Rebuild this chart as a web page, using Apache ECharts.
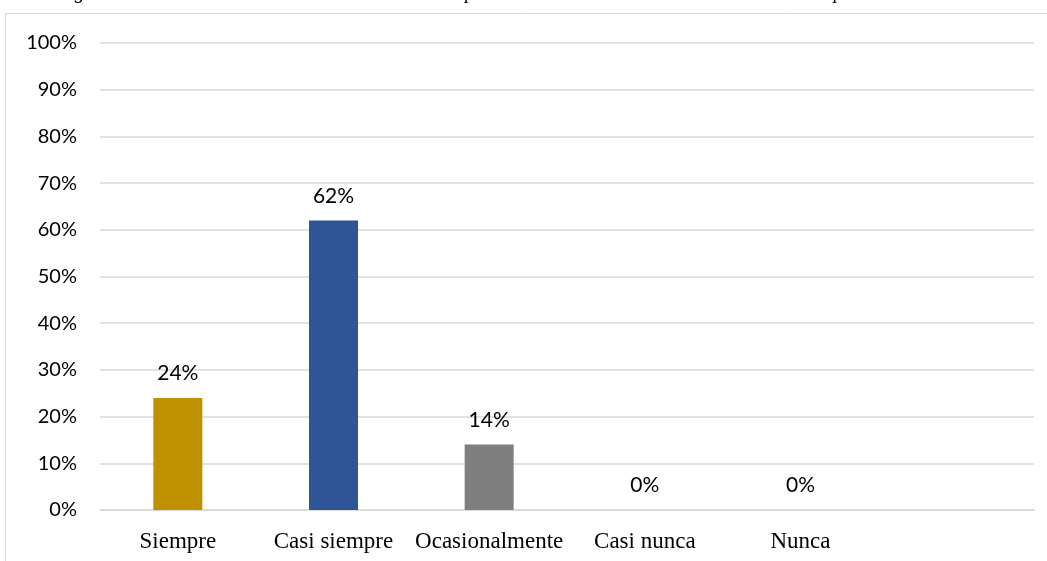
<!DOCTYPE html>
<html>
<head>
<meta charset="utf-8">
<script src="https://cdn.jsdelivr.net/npm/echarts@6/dist/echarts.min.js"></script>
<style>
html,body{margin:0;padding:0;background:#fff;}
#main{width:1047px;height:561px;}
</style>
</head>
<body>
<div id="main"></div>
<script>
const categories = ['Siempre', 'Casi siempre', 'Ocasionalmente', 'Casi nunca', 'Nunca', ''];
const values = [24, 62, 14, 0, 0, null];
const barColors = ['#BF9000', '#2F5597', '#7F7F7F', '#4472C4', '#4472C4', '#4472C4'];
const yTicks = [0, 10, 20, 30, 40, 50, 60, 70, 80, 90, 100];
const titleText = 'Figura 14. Actividades realizadas con las otras empresas del área contable de la zona norte compartidas';

const chart = echarts.init(document.getElementById('main'), null, {renderer: 'canvas'});
chart.setOption({
  animation: false,
  backgroundColor: '#ffffff',
  graphic: [
    {type: 'rect', z: 0, shape: {x: 5.5, y: 13.5, width: 1100, height: 600},
     style: {fill: 'none', stroke: '#D9D9D9', lineWidth: 1}},
    {type: 'text', z: 1, left: 57, top: -17,
     style: {text: titleText, font: 'italic 20px "Liberation Serif"', fill: '#000'}}
  ],
  grid: {left: 100, right: 13, top: 43, bottom: 51, containLabel: false},
  xAxis: {
    type: 'category',
    data: categories,
    axisLine: {show: true, lineStyle: {color: '#D9D9D9', width: 1.5}},
    axisTick: {show: false},
    axisLabel: {margin: 20, color: '#000', fontFamily: 'Liberation Serif', fontSize: 23, interval: 0}
  },
  yAxis: {
    type: 'value',
    min: yTicks[0], max: yTicks[yTicks.length - 1], interval: 10,
    axisLine: {show: false},
    axisTick: {show: false},
    splitLine: {lineStyle: {color: '#D9D9D9', width: 1.5}},
    axisLabel: {margin: 23, color: '#000', fontFamily: 'Lato', fontSize: 20,
      formatter: v => v + '%'}
  },
  series: [{
    type: 'bar',
    barWidth: 49,
    data: values.map((v, i) => ({value: v, itemStyle: {color: barColors[i]}})),
    label: {show: true, position: 'top', distance: 14, color: '#000',
      fontFamily: 'Lato', fontSize: 21,
      formatter: p => (p.value == null ? '' : p.value + '%')}
  }]
});
</script>
</body>
</html>
